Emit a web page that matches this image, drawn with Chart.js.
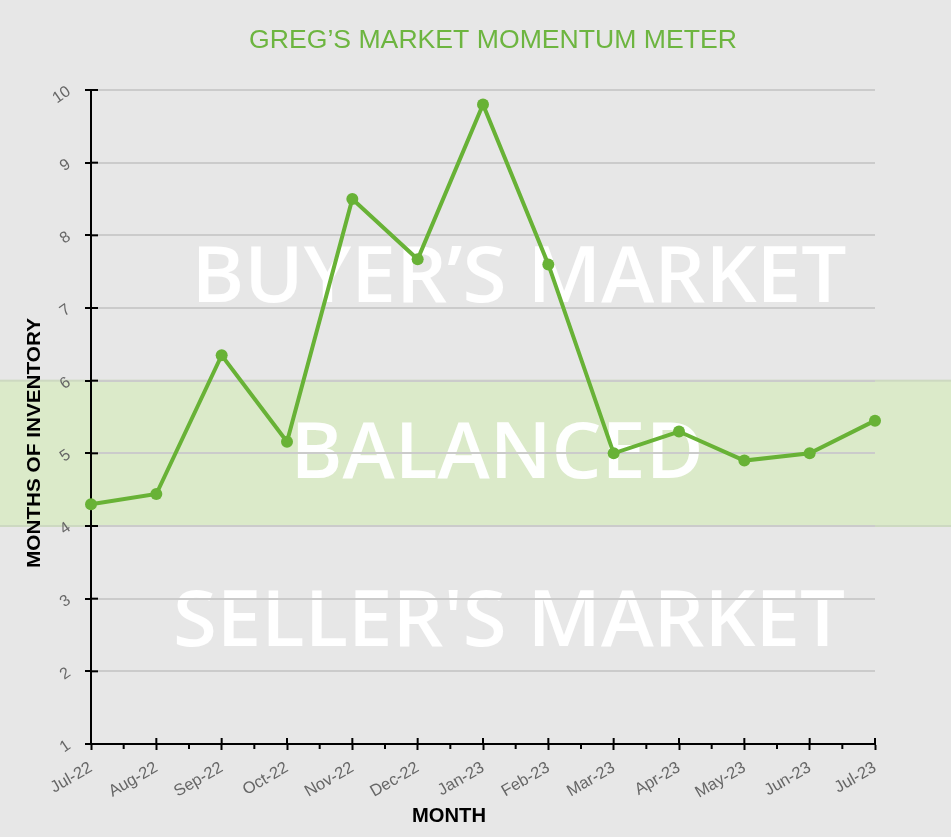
<!DOCTYPE html>
<html>
<head>
<meta charset="utf-8">
<title>Greg's Market Momentum Meter</title>
<script src="https://cdn.jsdelivr.net/npm/chart.js@4/dist/chart.umd.min.js"></script>
<style>
  html, body { margin: 0; padding: 0; background: #e7e7e7; }
  canvas { display: block; }
</style>
</head>
<body>
<canvas id="chart" width="951" height="837"></canvas>
<script>
// Months of inventory, July 2022 – July 2023
const months = ['Jul-22', 'Aug-22', 'Sep-22', 'Oct-22', 'Nov-22', 'Dec-22', 'Jan-23',
                'Feb-23', 'Mar-23', 'Apr-23', 'May-23', 'Jun-23', 'Jul-23'];
const inventory = [4.3, 4.44, 6.35, 5.16, 8.5, 7.67, 9.8, 7.6, 5.0, 5.3, 4.9, 5.0, 5.45];
const yTickValues = [1, 2, 3, 4, 5, 6, 7, 8, 9, 10];
const balancedRange = [4, 6];
const zoneLabels = ['BUYER\u2019S MARKET', 'BALANCED', 'SELLER\'S MARKET'];
const chartTitle = 'GREG\u2019S MARKET MOMENTUM METER';
const yAxisTitle = 'MONTHS OF INVENTORY';
const xAxisTitle = 'MONTH';

const GREEN = '#68b236';

// Draw text squeezed/stretched horizontally to a given width
function drawFitted(ctx, text, cx, baseline, width, font, color) {
  ctx.save();
  ctx.font = font;
  const w = ctx.measureText(text).width;
  ctx.translate(cx, baseline);
  ctx.scale(width / w, 1);
  ctx.textAlign = 'center';
  ctx.textBaseline = 'alphabetic';
  ctx.fillStyle = color;
  ctx.fillText(text, 0, 0);
  ctx.restore();
}

// Background, balanced band, zone captions and title under the grid
const backdrop = {
  id: 'backdrop',
  beforeDraw(chart) {
    const { ctx, width, scales: { y } } = chart;
    ctx.save();
    ctx.fillStyle = '#e7e7e7';
    ctx.fillRect(0, 0, width, chart.height);
    const top = y.getPixelForValue(balancedRange[1]);
    const bottom = y.getPixelForValue(balancedRange[0]);
    ctx.fillStyle = '#dbeac9';
    ctx.fillRect(0, top, width, bottom - top);
    ctx.fillStyle = '#cdd9c1';
    ctx.fillRect(0, top - 1, width, 2);
    ctx.fillRect(0, bottom - 1, width, 2);

    const font = '600 77px "Open Sans", sans-serif';
    const white = 'rgba(255,255,255,0.97)';
    drawFitted(ctx, zoneLabels[0], 519, y.getPixelForValue(7.08), 655, font, white);
    drawFitted(ctx, zoneLabels[1], 497, y.getPixelForValue(4.66), 413, font, white);
    drawFitted(ctx, zoneLabels[2], 509, y.getPixelForValue(2.35), 672, font, white);

    drawFitted(ctx, chartTitle, 493, 48, 488, '25px "Liberation Sans", Arial, sans-serif', '#6db540');
    ctx.restore();
  },
  afterDraw(chart) {
    const { ctx, scales: { x, y } } = chart;
    ctx.save();
    ctx.fillStyle = '#000';
    // inner halves of the axis ticks, plus minor ticks between months
    const axisX = x.left;
    y.ticks.forEach(t => {
      const py = y.getPixelForValue(t.value);
      ctx.fillRect(axisX, py - 1, 7, 2);
    });
    const axisY = y.bottom;
    months.forEach((m, i) => {
      const px = x.getPixelForValue(i);
      ctx.fillRect(px - 1, axisY - 6, 2, 6);
      if (i < months.length - 1) {
        const mid = (px + x.getPixelForValue(i + 1)) / 2;
        ctx.fillRect(mid - 1, axisY, 2, 5);
      }
    });
    // axis titles
    ctx.save();
    ctx.translate(40, 443);
    ctx.rotate(-Math.PI / 2);
    drawFitted(ctx, yAxisTitle, 0, 0, 250, 'bold 19px "Liberation Sans", Arial, sans-serif', '#000');
    ctx.restore();
    drawFitted(ctx, xAxisTitle, 449, 822, 74, 'bold 21px "Liberation Sans", Arial, sans-serif', '#000');
    ctx.restore();
  }
};

new Chart(document.getElementById('chart'), {
  type: 'line',
  data: {
    labels: months,
    datasets: [{
      data: inventory,
      borderColor: GREEN,
      backgroundColor: GREEN,
      borderWidth: 4,
      pointRadius: 6,
      pointBackgroundColor: GREEN,
      pointBorderWidth: 0,
      tension: 0,
      clip: false
    }]
  },
  options: {
    responsive: false,
    animation: false,
    events: [],
    layout: { padding: { top: 90, right: 76, left: 0, bottom: 0 } },
    plugins: { legend: { display: false }, title: { display: false }, tooltip: { enabled: false } },
    scales: {
      x: {
        offset: false,
        grid: { display: true, drawOnChartArea: false, drawTicks: true, tickLength: 6, tickColor: '#000', tickWidth: 2 },
        border: { display: true, color: '#000', width: 2 },
        ticks: {
          color: '#666',
          font: { family: '"Liberation Sans", Arial, sans-serif', size: 16.5 },
          minRotation: 30, maxRotation: 30, padding: 8, autoSkip: false
        },
        afterFit(scale) { scale.height = 93; }
      },
      y: {
        min: yTickValues[0],
        max: yTickValues[yTickValues.length - 1],
        afterBuildTicks(scale) { scale.ticks = yTickValues.map(v => ({ value: v })); },
        grid: { color: '#cbcbcb', lineWidth: 2, drawTicks: true, tickLength: 6, tickColor: '#000', tickWidth: 2 },
        border: { display: true, color: '#000', width: 2 },
        ticks: {
          color: '#666',
          font: { family: '"Liberation Sans", Arial, sans-serif', size: 16 },
          minRotation: 35, maxRotation: 35, padding: 16
        },
        afterFit(scale) { scale.width = 91; }
      }
    }
  },
  plugins: [backdrop]
});
</script>
</body>
</html>
